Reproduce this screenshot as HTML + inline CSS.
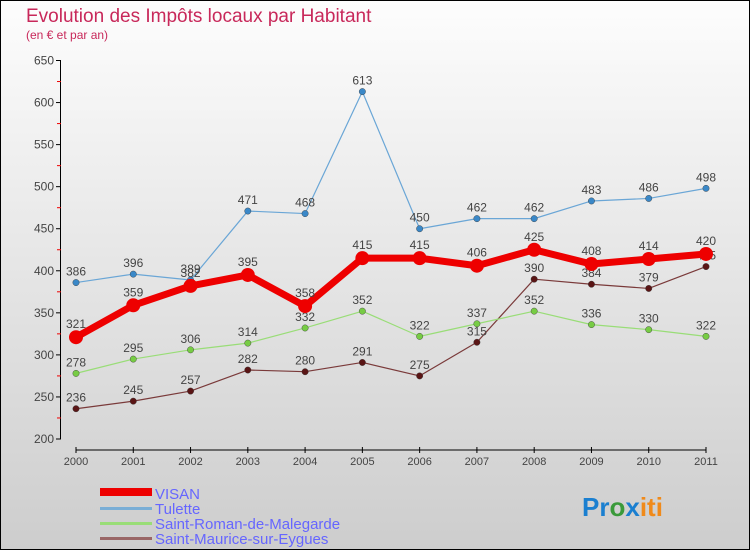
<!DOCTYPE html>
<html><head><meta charset="utf-8"><style>
body{margin:0}
svg{display:block;font-family:"Liberation Sans",sans-serif}
</style></head><body>
<svg id="c" width="750" height="550" xmlns="http://www.w3.org/2000/svg">
<defs><linearGradient id="bg" x1="0" y1="0" x2="0" y2="1"><stop offset="0" stop-color="#fdfdfd"/><stop offset="1" stop-color="#cdcdcd"/></linearGradient></defs>
<rect x="0.5" y="0.5" width="749" height="549" fill="url(#bg)" stroke="#000"/>
<text x="26" y="22" font-size="19" fill="#c8285a">Evolution des Impôts locaux par Habitant</text>
<text x="26" y="39" font-size="12" fill="#c8285a">(en € et par an)</text>
<g id="axes"></g><g id="series"></g>
<g>
<rect x="100" y="488" width="52" height="8" fill="#e00"/>
<text x="155" y="499" font-size="15" fill="#6666ff">VISAN</text>
<rect x="100" y="507" width="52" height="3" fill="#7aaed6"/>
<text x="155" y="514" font-size="15" fill="#6666ff">Tulette</text>
<rect x="100" y="522" width="52" height="3" fill="#99dd77"/>
<text x="155" y="529" font-size="15" fill="#6666ff">Saint-Roman-de-Malegarde</text>
<rect x="100" y="537" width="52" height="3" fill="#996666"/>
<text x="155" y="544" font-size="15" fill="#6666ff">Saint-Maurice-sur-Eygues</text>
</g>
<text x="582" y="516" font-size="26" font-weight="bold"><tspan fill="#1a7fd0">Pr</tspan><tspan fill="#3a9a3a">o</tspan><tspan fill="#1a7fd0">x</tspan><tspan fill="#f08a1a">iti</tspan></text>
</svg>
<script>
const years=[2000,2001,2002,2003,2004,2005,2006,2007,2008,2009,2010,2011];
const visan=[321,359,382,395,358,415,415,406,425,408,414,420];
const tulette=[386,396,389,471,468,613,450,462,462,483,486,498];
const saintRoman=[278,295,306,314,332,352,322,337,352,336,330,322];
const saintMaurice=[236,245,257,282,280,291,275,315,390,384,379,405];
const yTicks=[200,250,300,350,400,450,500,550,600,650];
const NS="http://www.w3.org/2000/svg";
const X=i=>76+i*(706-76)/(years.length-1);
const Y=v=>439-(v-200)*(439-60.5)/450;
function mk(tag,at,parent){const e=document.createElementNS(NS,tag);for(const k in at)e.setAttribute(k,at[k]);parent.appendChild(e);return e;}
const ax=document.getElementById('axes'),sg=document.getElementById('series');
let l=mk('line',{x1:60.5,y1:Y(650),x2:60.5,y2:Y(200),stroke:'#000'},ax);


yTicks.forEach(v=>{
 let t=mk('line',{x1:56,x2:61,y1:Y(v),y2:Y(v),stroke:'#000'},ax);
 
 
 if(v<650){let m=mk('line',{x1:57,x2:61,y1:Y(v+25),y2:Y(v+25),stroke:'#e00'},ax);
 
 }
 let tx=mk('text',{x:54,y:Y(v)+4,'font-size':12,'text-anchor':'end',fill:'#444'},ax);tx.textContent=v;
 
 
});
let xa=mk('line',{x1:X(0),y1:450,x2:X(11),y2:450,stroke:'#000'},ax);


years.forEach((yr,i)=>{
 let t=mk('line',{x1:X(i),x2:X(i),y1:447,y2:453,stroke:'#000'},ax);
 
 
 let tx=mk('text',{x:X(i),y:465,'font-size':11,'text-anchor':'middle',fill:'#444'},ax);tx.textContent=yr;
 
 
});
function series(vals,color,dot,w,r,name){
 const g=mk('g',{},sg);
 
 
 let p=mk('polyline',{points:vals.map((v,i)=>X(i)+','+Y(v)).join(' '),fill:'none',stroke:color,'stroke-width':w,'stroke-linejoin':'round'},g);
 
 
 vals.forEach((v,i)=>{
  let c=mk('circle',{cx:X(i),cy:Y(v),r:r,fill:dot,stroke:w>3?'none':'#333','stroke-width':0.4},g);
  
  
  let t=mk('text',{x:X(i),y:Y(v)-(w>3?9:7),'font-size':12,'text-anchor':'middle',fill:'#444'},g);t.textContent=v;
  
  
 });
}
series(saintMaurice,'#7a3a3a','#5a1515',1.2,3.2,'saint-maurice');
series(saintRoman,'#99dd77','#77cc44',1.2,3.2,'saint-roman');
series(tulette,'#6aa6d6','#3a88c8',1.2,3.2,'tulette');
series(visan,'#ee0000','#ee0000',7,7,'visan');
</script>
</body></html>
